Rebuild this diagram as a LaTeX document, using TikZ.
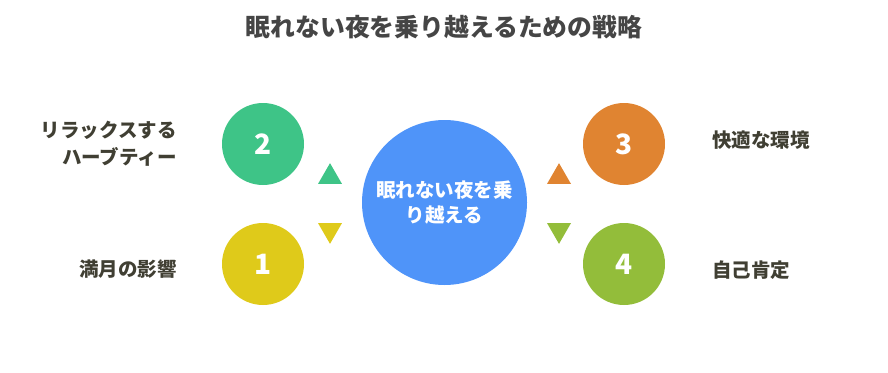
\documentclass[tikz,border=0pt]{standalone}
\usepackage{fontspec}
\setmainfont{Noto Sans CJK JP}
\usetikzlibrary{shapes.geometric}
\definecolor{titlegray}{HTML}{454545}
\definecolor{labeldark}{HTML}{403F33}
\definecolor{coreblue}{HTML}{4F94F9}
\definecolor{herbgreen}{HTML}{3EC487}
\definecolor{moonyellow}{HTML}{DFCA1A}
\definecolor{roomorange}{HTML}{E08431}
\definecolor{selfgreen}{HTML}{93BD3A}
\begin{document}
\begin{tikzpicture}[x=1pt, y=-1pt, every node/.style={font=\bfseries},
  stepdot/.style={circle,minimum size=82pt,inner sep=0pt,text=white,font=\bfseries\fontsize{28}{30}\selectfont},
  tip/.style={regular polygon,regular polygon sides=3,minimum size=27.7pt,inner sep=0pt},
  lbl/.style={text=labeldark,inner sep=0pt,font=\bfseries\fontsize{19.5}{27}\selectfont}]
\useasboundingbox (0,0) rectangle (888,372);
\node[text=titlegray,font=\bfseries\fontsize{24.8}{28}\selectfont] (title) at (444,27) {眠れない夜を乗り越えるための戦略};
% center
\node[circle,fill=coreblue,minimum size=165pt,inner sep=0pt,align=center,text=white,
  font=\bfseries\fontsize{19.5}{24.5}\selectfont] (core) at (444.5,202.5) {眠れない夜を乗\\り越える};
% steps
\node[stepdot,fill=moonyellow] (s1) at (263,264) {1};
\node[stepdot,fill=herbgreen] (s2) at (263,144) {2};
\node[stepdot,fill=roomorange] (s3) at (624,144) {3};
\node[stepdot,fill=selfgreen] (s4) at (624,264) {4};
% triangles
\node[tip,fill=herbgreen] (t2) at (330,177) {};
\node[tip,fill=moonyellow,shape border rotate=180] (t1) at (330,230) {};
\node[tip,fill=roomorange] (t3) at (559,177) {};
\node[tip,fill=selfgreen,shape border rotate=180] (t4) at (559,230) {};
% labels
\node[lbl,anchor=east,align=right] (l2) at (177,144) {リラックスする\\ハーブティー};
\node[lbl,anchor=east] (l1) at (177,269) {満月の影響};
\node[lbl,anchor=west] (l3) at (712,140) {快適な環境};
\node[lbl,anchor=west] (l4) at (712,270) {自己肯定};
\end{tikzpicture}
\end{document}
